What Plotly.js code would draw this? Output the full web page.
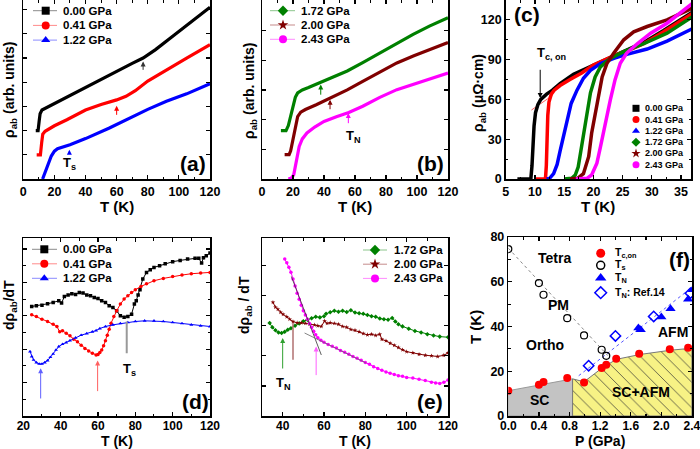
<!DOCTYPE html>
<html><head><meta charset="utf-8">
<script src="https://cdn.plot.ly/plotly-3.0.1.min.js"></script>
<style>html,body{margin:0;padding:0;background:#fff}#g{width:700px;height:449px}</style>
</head><body><div id="g"></div>
<script>
// ---------- Panel (a): rho_ab (arb. units) vs T ----------
const aT_000 = [8,9.5,10.2,10.8,12,20,30,40,50,60,70,77,85,95,105,113,120];
const aY_000 = [2.0,2.0,2.4,2.7,2.85,3.12,3.42,3.78,4.12,4.45,4.78,5.0,5.35,5.85,6.35,6.75,7.1];
const aT_041 = [8.6,11,11.8,12.5,14,20,28,40,50,60,66,72,80,92,105,120];
const aY_041 = [1.0,1.0,1.5,1.85,1.97,2.2,2.45,2.85,3.08,3.27,3.42,3.65,4.05,4.52,5.0,5.55];
const aT_122 = [12.4,14,16,18,20,22,30,40,55,70,80,92,105,120];
const aY_122 = [0,0.3,0.65,0.95,1.15,1.25,1.42,1.67,2.1,2.58,2.88,3.21,3.52,3.94];

// ---------- Panel (b) ----------
const bT_172 = [12.2,15.5,17,18.5,20,21.5,23,26,30,37.5,45,55,65,76,87,97.5,108,120];
const bY_172 = [1.63,1.63,1.8,2.1,2.45,2.75,2.9,3.0,3.08,3.24,3.42,3.64,3.92,4.25,4.57,4.87,5.15,5.43];
const bT_200 = [14.6,17.5,18.5,20,21.5,23,25,28,35,44,55,65,76,87,98,108,120];
const bY_200 = [0.82,0.82,0.95,1.35,1.8,2.1,2.25,2.34,2.5,2.73,3.0,3.29,3.6,3.91,4.15,4.36,4.6];
const bT_243 = [17,19,20.5,21.5,22.5,24,26,29,34,40,48,56,65,76,87,98,108,120];
const bY_243 = [0,0.03,0.15,0.45,0.76,1.1,1.35,1.55,1.75,1.94,2.1,2.24,2.45,2.75,3.01,3.2,3.36,3.57];

// ---------- Panel (c): rho_ab (micro-ohm cm) vs T ----------
const cT_000 = [7,9.3,9.5,9.65,9.85,10.1,10.5,11,12,13,14.3,16.6,20,23.5,26,28.6,32,35,37];
const cY_000 = [0,0,10,25,40,50,56,60,64,67,72,79,86,93,98,103,112,120,126];
const cT_041 = [10,11.8,11.95,12.05,12.2,12.4,12.8,13.3,14.3,16,18,20,22,24,26,28.6,32,35,37];
const cY_041 = [0,0,10,30,48,58,64,67,70.5,75,80,86,90,94,97,102,111,119,125];
const cT_122 = [12,12.5,13.2,13.8,14.3,14.8,15.2,15.7,16.2,17.2,18.3,19.5,21.2,23.5,25.7,29.2,32.6,37];
const cY_122 = [0,0.5,4,11,21,31,40,49,57,67,76,82,87,91,94,98,104,113.5];
const cT_172 = [15,16.3,16.9,17.4,17.7,18,18.3,18.6,18.9,19.2,19.5,20.3,21.2,22.9,25.2,28.6,32.6,37];
const cY_172 = [0,0.5,3,9,17,25,32,41,50,58,65,77,84.5,91,96,102,110,122.5];
const cT_200 = [16,17.3,18.3,19.2,19.7,20.3,20.9,21.5,22.3,23.5,25.2,26.9,29.2,32.6,37];
const cY_200 = [0,0.5,4,17,34.5,49.6,64.7,77,87,95,105,111,115,120,129];
const cT_243 = [17,18.9,19.7,20.6,21.2,22.0,22.9,23.7,24.6,25.7,27.5,29.8,32.6,37];
const cY_243 = [0,0.5,3,12,24,42,59.6,74.7,87.3,95,102,110,117.5,132.6];
const cFitT = [9.4,13];
const cFitY = [52,63];

// ---------- Panel (d): d rho / dT ----------
const dT_000 = [24.5,27,30,33,36,39,40.5,42,44,46,48,50,52,54,56,58,60,62,64,66,68,70,72,74,76,78,79.5,80.5,81.5,82.5,84,86,88,90,93,96,100,104,108,112,114,115.5,116.5,118,120];
const dY_000 = [3.28,3.30,3.32,3.36,3.40,3.45,3.38,3.58,3.62,3.66,3.64,3.70,3.68,3.62,3.60,3.55,3.52,3.45,3.40,3.30,3.25,3.15,3.00,2.96,2.98,3.05,3.35,3.45,3.62,3.78,4.10,4.30,4.38,4.45,4.50,4.56,4.62,4.66,4.70,4.72,4.72,4.58,4.74,4.80,4.88];
const dT_041 = [24.5,27,30,33,36,38,39.5,41,43,45,47,49,51,53,55,57,59,60,61,62,63,64,65,66,67,68.5,70,72,74,76,78,80,83,86,90,95,100,105,110,115,120];
const dY_041 = [3.03,2.98,2.90,2.83,2.75,2.68,2.52,2.55,2.48,2.40,2.30,2.22,2.12,2.02,1.95,1.88,1.83,1.84,1.90,1.98,2.10,2.25,2.42,2.60,2.78,2.98,3.15,3.35,3.50,3.60,3.70,3.78,3.88,3.96,4.05,4.12,4.18,4.22,4.26,4.28,4.30];
const dT_122 = [23.6,24.5,25.5,27,28.5,30,31.5,33,34.5,36,37.5,39,41,43,45,48,51,54,57,59,61,64,68,72,76,80,85,90,95,100,105,110,115,120];
const dY_122 = [1.93,1.78,1.68,1.60,1.56,1.56,1.60,1.66,1.76,1.86,1.98,2.08,2.15,2.20,2.26,2.34,2.42,2.47,2.52,2.56,2.62,2.68,2.73,2.77,2.80,2.83,2.85,2.85,2.83,2.80,2.77,2.73,2.70,2.68];

// ---------- Panel (e) ----------
const eT_172 = [33.7,35,36.5,38,39.5,41,42.5,44,46,48,50,52,54,56,58,60,61,63,65,67,69,71,73,75,77,79,81,83,85,87,89,91,93,94.5,96,98,101,104,107,110,113,116,120];
const eY_172 = [3.09,2.95,2.85,2.78,2.76,2.80,2.87,2.92,3.00,3.08,3.15,3.20,3.25,3.30,3.28,3.32,3.40,3.45,3.50,3.47,3.50,3.46,3.52,3.44,3.42,3.40,3.36,3.32,3.30,3.24,3.22,3.20,3.26,3.14,3.05,2.98,2.90,2.83,2.78,2.72,2.68,2.64,2.62];
const eT_200 = [35.3,36.5,37.7,39,40.2,42,43.4,45,47,49,51,53,55.4,57,58.7,60.3,61.5,63,65,67,69,71,73,75,77,79,81,83,85,87,88,90,92,94,96,98,100,103,106,109,112,115,118,120];
const eY_200 = [3.78,3.62,3.55,3.45,3.38,3.30,3.22,3.14,3.10,3.10,3.08,3.06,3.03,3.00,2.98,3.16,3.08,3.10,3.08,3.05,2.98,2.95,2.88,2.85,2.80,2.74,2.70,2.72,2.68,2.72,2.55,2.50,2.42,2.35,2.28,2.20,2.14,2.10,2.05,2.02,2.00,1.98,2.02,2.10];
const eT_243 = [41,42,43,44,45,46,47,48,49,50,51,52,53,54,55,56,57,58.5,60,62,64,66,68,70,72,74,76,78,80,82,84,86,88,90,92,94,96,98,100,103,106,109,112,114,116,118,120];
const eY_243 = [5.22,5.10,4.95,4.78,4.56,4.32,4.08,3.88,3.68,3.50,3.36,3.22,3.08,2.95,2.82,2.70,2.60,2.52,2.45,2.38,2.32,2.26,2.18,2.12,2.05,1.98,1.92,1.85,1.78,1.72,1.64,1.58,1.52,1.46,1.42,1.38,1.34,1.32,1.28,1.26,1.22,1.18,1.12,1.10,1.08,1.12,1.20];
const eFit1T = [44.2,58.7], eFit1Y = [4.64,2.03];
const eFit2T = [50.6,80.4], eFit2Y = [2.76,1.76];

// ---------- Panel (f): phase diagram ----------
const fP_Tc = [0,0.40,0.46,0.77,0.99,1.22,1.28,1.41,1.71,2.11,2.35];
const fT_Tc = [11.3,14.0,15.2,17.0,15.0,21.5,22.9,25.6,27.8,29.8,30.5];
const fP_Ts = [0,0.40,0.46,0.77,0.99,1.22,1.28];
const fT_Ts = [74.6,59.4,54.2,43.7,36.0,29.6,26.9];
const fP_TN = [1.70,1.73,2.0,2.12,2.35,2.41];
const fT_TN = [39.3,38.5,44.2,47.9,52.2,56.4];
const fP_Ref = [1.05,1.40,1.90,2.38];
const fT_Ref = [22.5,35.8,44.5,54.9];
const fFitTsP = [0,1.3], fFitTsT = [75,27];
const fFitTNP = [0.92,2.4], fFitTNT = [18,57.5];
const fSCP = [0,0,0.84,0.84,0], fSCT = [0,11.3,16.6,0,0];
const fAFMP = [0.84,0.84,0.99,1.22,1.41,1.72,2.12,2.4,2.4,0.84];
const fAFMT = [0,16.6,15.3,21.3,25.3,27.5,29.4,30.3,0,0];

const legLabels1 = ['0.00 GPa','0.41 GPa','1.22 GPa'];
const legLabels2 = ['1.72 GPa','2.00 GPa','2.43 GPa'];
const legLabelsAll = legLabels1.concat(legLabels2);
const legLabelsF = ['T<sub>c,on</sub>','T<sub>s</sub>','T<sub>N</sub>','T<sub>N</sub>: Ref.14'];

// ================= styling ================
const FONT = 'Arial, "Liberation Sans", sans-serif';
const COL = {k:'#000000', r:'#ff0000', b:'#0000ff', g:'#008000', br:'#800000', m:'#ff00ff'};
const SYM = {k:'square', r:'circle', b:'triangle-up', g:'diamond', br:'star', m:'circle'};
const W = 700, H = 449;
const px = x => x / W, py = y => 1 - y / H;

const traces = [];
function ln(x, y, c, n, w) {
  traces.push({x, y, xaxis:'x'+n, yaxis:'y'+n, mode:'lines', line:{color:c, width:w}, hoverinfo:'skip'});
}
function lm(x, y, c, n, sym) {
  traces.push({x, y, xaxis:'x'+n, yaxis:'y'+n, mode:'lines+markers',
    line:{color:c, width:1}, marker:{color:c, size:3.5, symbol:sym}, hoverinfo:'skip'});
}
// (a)
ln(aT_000, aY_000, COL.k, '', 3.2); ln(aT_041, aY_041, COL.r, '', 3.2); ln(aT_122, aY_122, COL.b, '', 3.2);
// (b)
ln(bT_172, bY_172, COL.g, 2, 3.2); ln(bT_200, bY_200, COL.br, 2, 3.2); ln(bT_243, bY_243, COL.m, 2, 3.2);
// (c)
ln(cFitT, cFitY, '#ff6060', 3, 1);
ln(cT_000, cY_000, COL.k, 3, 3.5); ln(cT_041, cY_041, COL.r, 3, 3.5); ln(cT_122, cY_122, COL.b, 3, 3.5);
ln(cT_172, cY_172, COL.g, 3, 3.5); ln(cT_200, cY_200, COL.br, 3, 3.5); ln(cT_243, cY_243, COL.m, 3, 3.5);
// (d)
lm(dT_000, dY_000, COL.k, 4, 'square'); lm(dT_041, dY_041, COL.r, 4, 'circle'); lm(dT_122, dY_122, COL.b, 4, 'triangle-up');
// (e)
lm(eT_172, eY_172, COL.g, 5, 'diamond'); lm(eT_200, eY_200, COL.br, 5, 'star'); lm(eT_243, eY_243, COL.m, 5, 'circle');
ln(eFit1T, eFit1Y, '#333', 5, 0.8); ln(eFit2T, eFit2Y, '#666', 5, 0.8);
// (f)
traces.push({x:fSCP, y:fSCT, xaxis:'x6', yaxis:'y6', mode:'lines', fill:'toself', fillcolor:'#c3c3c3', line:{color:'#999', width:1}, hoverinfo:'skip'});
traces.push({x:fAFMP, y:fAFMT, xaxis:'x6', yaxis:'y6', mode:'lines', fill:'toself', fillcolor:'#f7f285',
  fillpattern:{shape:'\\', bgcolor:'#f7f285', fgcolor:'#333333', size:9, solidity:0.08},
  line:{color:'#777', width:1}, hoverinfo:'skip'});
ln(fFitTsP, fFitTsT, '#888', 6, 1); traces[traces.length-1].line.dash = 'dot';
ln(fFitTNP, fFitTNT, '#5555ff', 6, 1); traces[traces.length-1].line.dash = 'dot';
traces.push({x:fP_Ts, y:fT_Ts, xaxis:'x6', yaxis:'y6', mode:'markers', marker:{symbol:'circle-open', size:7, color:'#000', line:{width:1.2}}});
traces.push({x:fP_Ref, y:fT_Ref, xaxis:'x6', yaxis:'y6', mode:'markers', marker:{symbol:'diamond-open', size:8, color:'#0000ff', line:{width:1.5}}});
traces.push({x:fP_TN, y:fT_TN, xaxis:'x6', yaxis:'y6', mode:'markers', marker:{symbol:'triangle-up', size:9, color:'#0000ff'}});
traces.push({x:fP_Tc, y:fT_Tc, xaxis:'x6', yaxis:'y6', mode:'markers', marker:{symbol:'circle', size:8, color:'#ff0000'}});

// ---------- manual legends (overlay pixel axis x7/y7) ----------
const shapes = [];
const annotations = [];
function legend(labels, keys, cfg) {
  labels.forEach((lab, i) => {
    const y = cfg.y0 + i * cfg.dy;
    const c = COL[keys[i]];
    if (cfg.line) shapes.push({type:'line', xref:'paper', yref:'paper', x0:px(cfg.x0), x1:px(cfg.x1), y0:py(y), y1:py(y), line:{color:c, width:1}, opacity:0.45});
    traces.push({x:[cfg.xm], y:[y], xaxis:'x7', yaxis:'y7', mode:'markers', hoverinfo:'skip',
      marker:{symbol:SYM[keys[i]], size:cfg.ms, color:c}});
    annotations.push({xref:'paper', yref:'paper', x:px(cfg.xt), y:py(y), xanchor:'left', yanchor:'middle', showarrow:false,
      text:lab, font:{family:FONT, size:cfg.fs, color:'#000', weight:'bold'}});
  });
}
legend(legLabels1, ['k','r','b'], {line:true, x0:33, x1:57, xm:45.7, xt:60.5, y0:10.7, dy:14.7, ms:8, fs:11.5});
legend(legLabels2, ['g','br','m'], {line:true, x0:270, x1:295, xm:283, xt:299, y0:10.7, dy:14.3, ms:8, fs:11.5});
legend(legLabelsAll, ['k','r','b','g','br','m'], {line:false, xm:636, xt:643, y0:108.3, dy:11.3, ms:7, fs:9});
legend(legLabels1, ['k','r','b'], {line:true, x0:32, x1:57, xm:44.3, xt:60.5, y0:249.3, dy:14.5, ms:8, fs:11.5});
legend(legLabels2, ['g','br','m'], {line:true, x0:363, x1:387, xm:375, xt:392, y0:250, dy:14.2, ms:8, fs:11.5});
// (f) legend
const fLegY = [253.3, 265.3, 278, 292.7];
const fLegM = [{symbol:'circle', color:'#ff0000', size:9}, {symbol:'circle-open', color:'#000', size:8, line:{width:1.5}},
               {symbol:'triangle-up', color:'#0000ff', size:10}, {symbol:'diamond-open', color:'#0000ff', size:9, line:{width:1.5}}];
legLabelsF.forEach((lab, i) => {
  traces.push({x:[600.7], y:[fLegY[i]], xaxis:'x7', yaxis:'y7', mode:'markers', hoverinfo:'skip', marker:fLegM[i]});
  annotations.push({xref:'paper', yref:'paper', x:px(613), y:py(fLegY[i]), xanchor:'left', yanchor:'middle', showarrow:false,
    text:lab, font:{family:FONT, size:10.5, color:'#000', weight:'bold'}});
});

// ---------- text labels ----------
function txt(x, y, s, size, extra) {
  annotations.push(Object.assign({xref:'paper', yref:'paper', x:px(x), y:py(y), showarrow:false, text:s,
    xanchor:'center', yanchor:'middle', font:{family:FONT, size:size, color:'#000', weight:'bold'}}, extra || {}));
}
txt(193, 163, '(a)', 21); txt(430, 163, '(b)', 21); txt(527, 15, '(c)', 21);
txt(195, 401, '(d)', 21); txt(430, 401, '(e)', 21); txt(679, 259, '(f)', 21);
// axis titles
txt(10, 90, 'ρ<sub>ab</sub> (arb. units)', 14, {textangle:-90});
txt(250, 91, 'ρ<sub>ab</sub> (arb. units)', 14, {textangle:-90});
txt(479, 93, 'ρ<sub>ab</sub> (μΩ·cm)', 14, {textangle:-90});
txt(10, 305, 'dρ<sub>ab</sub>/dT', 14, {textangle:-90});
txt(245, 305, 'dρ<sub>ab</sub> / dT', 14, {textangle:-90});
txt(475, 327, 'T (K)', 15, {textangle:-90});
txt(117, 206, 'T (K)', 15); txt(355, 206, 'T (K)', 15); txt(598, 206, 'T (K)', 15);
txt(117, 440.5, 'T (K)', 14); txt(355, 440.5, 'T (K)', 14); txt(600, 440.5, 'P (GPa)', 14);

function dtxt(n, x, y, s, size) {
  annotations.push({xref:'x'+n, yref:'y'+n, x, y, showarrow:false, text:s, xanchor:'center', yanchor:'middle',
    font:{family:FONT, size:size, color:'#000', weight:'bold'}});
}
dtxt('', 30, 0.66, 'T<sub>s</sub>', 13);
dtxt(2, 58.9, 1.44, 'T<sub>N</sub>', 13);
dtxt(3, 12.8, 94.8, 'T<sub>c, on</sub>', 13);
dtxt(4, 77.1, 1.4, 'T<sub>s</sub>', 13);
dtxt(5, 40.2, 1.07, 'T<sub>N</sub>', 13);
dtxt(6, 0.61, 70.6, 'Tetra', 14); dtxt(6, 0.65, 49.7, 'PM', 14); dtxt(6, 0.48, 31.8, 'Ortho', 14);
dtxt(6, 2.15, 37.5, 'AFM', 14); dtxt(6, 0.41, 7.2, 'SC', 14); dtxt(6, 1.74, 10.9, 'SC+AFM', 14);

// arrows
function arr(n, x, y0, y1, c) {
  annotations.push({xref:'x'+n, yref:'y'+n, axref:'x'+n, ayref:'y'+n, x, y:y1, ax:x, ay:y0, text:'', showarrow:true,
    arrowhead:2, arrowsize:1, arrowwidth:1, arrowcolor:c});
}
arr('', 77, 4.45, 4.86, '#333'); arr('', 60, 2.59, 3.03, COL.r); arr('', 29.6, 1.0, 1.21, COL.b);
arr(2, 37.9, 2.79, 3.18, COL.g); arr(2, 43.9, 2.30, 2.67, COL.br); arr(2, 55.7, 1.83, 2.22, COL.m);
arr(3, 10.9, 83.5, 61, '#000');
arr(4, 29.3, 0.48, 1.43, '#6060ff'); arr(4, 59.8, 0.7, 1.66, '#ff6060');
arr(5, 40, 1.53, 2.59, '#30a030'); arr(5, 56.2, 1.31, 2.31, '#ff60ff');
shapes.push({type:'line', xref:'x4', yref:'y4', x0:75.4, x1:75.4, y0:1.88, y1:2.83, line:{color:'#999', width:2}});
shapes.push({type:'line', xref:'x5', yref:'y5', x0:45, x1:45, y0:1.87, y1:3.09, line:{color:'#b07070', width:1.5}});

// ---------- axes ----------
function ax(domain, range, opts) {
  return Object.assign({domain, range, showline:true, linecolor:'#000', linewidth:1.5, mirror:'allticks',
    ticks:'inside', ticklen:4, tickwidth:1.2, tickcolor:'#000', zeroline:false, showgrid:false, fixedrange:true,
    ticklabeloverflow:'allow',
    tickfont:{family:FONT, size:12.5, color:'#000', weight:'bold'}}, opts);
}
const botFont = {family:FONT, size:12, color:'#000', weight:'bold'};
const minor = d => ({dtick:d, ticks:'inside', ticklen:2.5, tickcolor:'#000', tickwidth:1, showgrid:false});
const topD = [py(179), 1], botD = [py(416), py(238)];
const layout = {
  width:W, height:H, margin:{l:0, r:0, t:0, b:0}, showlegend:false,
  paper_bgcolor:'#fff', plot_bgcolor:'rgba(0,0,0,0)',
  xaxis:  ax([px(23.3), px(210)], [0,120.001], {anchor:'y', dtick:20, minor:minor(10)}),
  yaxis:  ax(topD, [0,7.4], {anchor:'x', dtick:1, showticklabels:false}),
  xaxis2: ax([px(262), px(448)], [0,120.001], {anchor:'y2', dtick:20, minor:minor(10)}),
  yaxis2: ax(topD, [0,6.03], {anchor:'x2', dtick:1, showticklabels:false}),
  xaxis3: ax([px(505.7), px(691)], [5,36.7], {anchor:'y3', dtick:5, minor:minor(2.5)}),
  yaxis3: ax(topD, [0,135], {anchor:'x3', dtick:30, minor:minor(15)}),
  xaxis4: ax([px(23.3), px(210)], [20,120.001], {anchor:'y4', dtick:20, minor:minor(10), tickfont:botFont, ticklabelstandoff:-2}),
  yaxis4: ax(botD, [0,5.33], {anchor:'x4', dtick:1, showticklabels:false, minor:minor(0.5)}),
  xaxis5: ax([px(262), px(448)], [30,120.001], {anchor:'y5', dtick:20, minor:minor(10), tickfont:botFont, ticklabelstandoff:-2}),
  yaxis5: ax(botD, [0,5.92], {anchor:'x5', dtick:1, showticklabels:false}),
  xaxis6: ax([px(508.3), px(692)], [0,2.4005], {anchor:'y6', tickmode:'array', tickvals:[0,0.4,0.8,1.2,1.6,2.0,2.4],
          ticktext:['0.0','0.4','0.8','1.2','1.6','2.0','2.4'], tickfont:botFont, ticklabelstandoff:-2,
          minor:{tickvals:[0.2,0.6,1.0,1.4,1.8,2.2], ticks:'inside', ticklen:2.5, tickcolor:'#000'}}),
  yaxis6: ax([py(416), py(237)], [0,80.001], {anchor:'x6', dtick:20, minor:minor(10)}),
  xaxis7: {domain:[0,1], range:[0,W], visible:false, anchor:'y7', fixedrange:true},
  yaxis7: {domain:[0,1], range:[H,0], visible:false, anchor:'x7', fixedrange:true},
  shapes, annotations
};
Plotly.newPlot('g', traces, layout, {staticPlot:true});
</script>
</body></html>
